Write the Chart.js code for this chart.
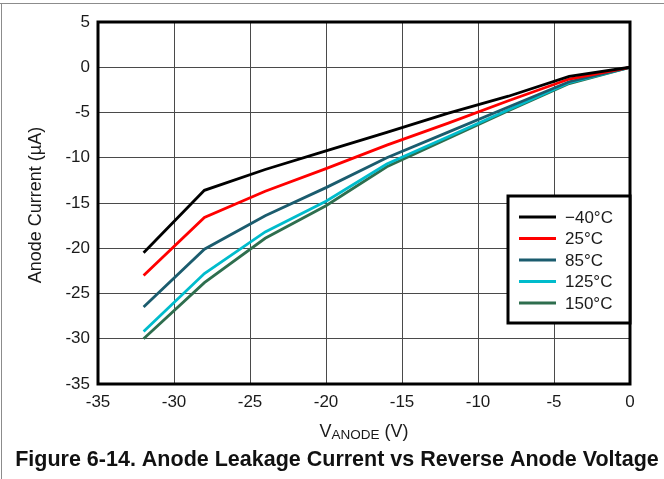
<!DOCTYPE html>
<html>
<head>
<meta charset="utf-8">
<title>Anode Leakage Current vs Reverse Anode Voltage</title>
<script src="https://cdn.jsdelivr.net/npm/chart.js@4.4.1/dist/chart.umd.min.js"></script>
<style>
  html, body { margin: 0; padding: 0; background: #fff; }
  #wrap { width: 664px; height: 479px; }
</style>
</head>
<body>
<div id="wrap"><canvas id="leakage" width="664" height="479"></canvas></div>
<script>
// Reverse anode voltage (V)
const voltage = [-32, -28, -24, -20, -16, -12, -8, -4, 0];

// Anode current (uA) at each temperature
const currentM40 = [-20.5, -13.6, -11.3, -9.25, -7.2, -5.1, -3.2, -1.0, 0];
const current25 = [-23.0, -16.6, -13.7, -11.2, -8.6, -6.2, -3.7, -1.3, 0];
const current85 = [-26.5, -20.1, -16.4, -13.3, -10.0, -7.2, -4.4, -1.6, 0];
const current125 = [-29.2, -22.8, -18.2, -14.8, -10.7, -7.7, -4.7, -1.7, 0];
const current150 = [-30.0, -23.8, -18.9, -15.3, -11.0, -7.9, -4.8, -1.8, 0];

const seriesLabels = ['\u221240\u00B0C', '25\u00B0C', '85\u00B0C', '125\u00B0C', '150\u00B0C'];
const seriesColors = ['#000000', '#ff0000', '#1b5c6e', '#00bccc', '#2e6e4e'];
const seriesValues = [currentM40, current25, current85, current125, current150];

const FONT = "'Liberation Sans', Arial, sans-serif";

const toPoints = (ys) => ys.map((y, i) => ({ x: voltage[i], y: y }));

// frame around the figure, axis titles, caption, plot border and inset legend
const decorations = {
    id: 'decorations',
    beforeDraw(chart) {
        const ctx = chart.ctx;
        ctx.save();
        ctx.strokeStyle = '#8c8c8c';
        ctx.lineWidth = 1;
        ctx.beginPath();
        ctx.moveTo(0, 3.5);
        ctx.lineTo(chart.width, 3.5);
        ctx.moveTo(1.5, 3.5);
        ctx.lineTo(1.5, chart.height);
        ctx.stroke();
        ctx.restore();
    },
    afterDraw(chart) {
        const ctx = chart.ctx;
        const a = chart.chartArea;
        ctx.save();

        // plot border
        ctx.strokeStyle = '#000';
        ctx.lineWidth = 3;
        ctx.strokeRect(a.left, a.top, a.right - a.left, a.bottom - a.top);

        // y axis title
        ctx.fillStyle = '#1a1a1a';
        ctx.font = '18px ' + FONT;
        ctx.textAlign = 'center';
        ctx.textBaseline = 'middle';
        ctx.save();
        ctx.translate(36, (a.top + a.bottom) / 2 + 2);
        ctx.rotate(-Math.PI / 2);
        ctx.fillText('Anode Current (\u00B5A)', 0, 0);
        ctx.restore();

        // x axis title with subscript
        const base = a.bottom + 53;
        ctx.textBaseline = 'alphabetic';
        ctx.textAlign = 'left';
        const big = '18px ' + FONT;
        const small = '13.5px ' + FONT;
        ctx.font = big;
        const wV = ctx.measureText('V').width;
        const wTail = ctx.measureText(' (V)').width;
        ctx.font = small;
        const wSub = ctx.measureText('ANODE').width;
        let x = (a.left + a.right) / 2 - (wV + wSub + wTail) / 2;
        ctx.font = big;
        ctx.fillText('V', x, base);
        x += wV;
        ctx.font = small;
        ctx.fillText('ANODE', x, base + 2);
        x += wSub;
        ctx.font = big;
        ctx.fillText(' (V)', x, base);

        // caption
        ctx.fillStyle = '#111';
        ctx.font = 'bold 21.5px ' + FONT;
        ctx.textAlign = 'center';
        ctx.fillText('Figure 6-14. Anode Leakage Current vs Reverse Anode Voltage', 337, 466);

        // legend inset at right edge of plot
        const lw = 122, lh = 127;
        const lx = a.right - lw, ly = a.top + 174;
        ctx.fillStyle = '#fff';
        ctx.fillRect(lx, ly, lw, lh);
        ctx.strokeStyle = '#000';
        ctx.lineWidth = 3;
        ctx.strokeRect(lx, ly, lw, lh);
        ctx.font = '17px ' + FONT;
        ctx.textBaseline = 'middle';
        ctx.textAlign = 'left';
        chart.data.datasets.forEach((ds, i) => {
            const ry = ly + 21 + i * 21.5;
            ctx.strokeStyle = ds.borderColor;
            ctx.lineWidth = 3;
            ctx.beginPath();
            ctx.moveTo(lx + 11, ry);
            ctx.lineTo(lx + 48, ry);
            ctx.stroke();
            ctx.fillStyle = '#1a1a1a';
            ctx.fillText(ds.label, lx + 57, ry + 1);
        });

        ctx.restore();
    }
};

new Chart(document.getElementById('leakage'), {
    type: 'line',
    data: {
        datasets: seriesValues.map((vals, i) => ({
            label: seriesLabels[i],
            data: toPoints(vals),
            borderColor: seriesColors[i],
            backgroundColor: seriesColors[i],
            borderWidth: 2.8,
            pointRadius: 0,
            tension: 0
        }))
    },
    options: {
        responsive: false,
        devicePixelRatio: 1,
        animation: false,
        layout: { padding: { left: 0, top: 22, right: 34, bottom: 0 } },
        plugins: {
            legend: { display: false },
            tooltip: { enabled: false }
        },
        scales: {
            x: {
                type: 'linear',
                min: -35,
                max: 0,
                afterFit(scale) { scale.height = 95; },
                ticks: {
                    stepSize: 5,
                    padding: 8,
                    color: '#1a1a1a',
                    font: { family: FONT, size: 17 }
                },
                grid: { color: '#4a4a4a', lineWidth: 1, drawTicks: false },
                border: { display: false }
            },
            y: {
                min: -35,
                max: 5,
                afterFit(scale) { scale.width = 98; },
                ticks: {
                    stepSize: 5,
                    padding: 8,
                    color: '#1a1a1a',
                    font: { family: FONT, size: 17 }
                },
                grid: { color: '#4a4a4a', lineWidth: 1, drawTicks: false },
                border: { display: false }
            }
        }
    },
    plugins: [decorations]
});
</script>
</body>
</html>
